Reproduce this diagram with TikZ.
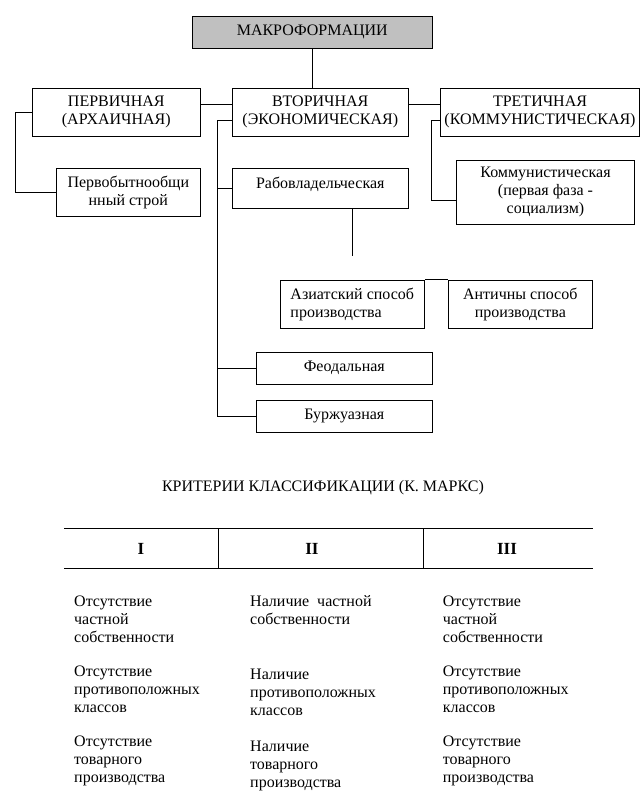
\documentclass[tikz,border=0pt]{standalone}
\usepackage{fontspec}
\setmainfont{Liberation Serif}
\definecolor{boxgray}{RGB}{192,192,192}
\begin{document}
\begin{tikzpicture}[x=1pt,y=-1pt,
  every node/.style={font=\fontsize{16}{18}\selectfont, inner sep=0pt},
  box/.style={draw, line width=1pt, align=center},
  conn/.style={draw, line width=1pt},
  txt/.style={align=left, anchor=west},
  numeral/.style={font=\fontsize{17}{18}\selectfont\bfseries}]
\useasboundingbox (0,0) rectangle (642,809);
% boxes
\node[box, fill=boxgray, minimum width=240pt, minimum height=32pt] (makro) at (312.3,32.2) {МАКРОФОРМАЦИИ};
\node[box, minimum width=168pt, minimum height=48pt] (perv) at (116.3,112.3) {ПЕРВИЧНАЯ\\(АРХАИЧНАЯ)};
\node[box, minimum width=176pt, minimum height=48pt] (vtor) at (320.3,112.3) {ВТОРИЧНАЯ\\(ЭКОНОМИЧЕСКАЯ)};
\node[box, minimum width=199pt, minimum height=48pt] (tret) at (540,112.3) {ТРЕТИЧНАЯ\\(КОММУНИСТИЧЕСКАЯ)};
\node[box, minimum width=144pt, minimum height=48pt] (pervob) at (128.3,192.3) {Первобытнообщи\\нный строй};
\node[box, minimum width=176pt, minimum height=40pt, text height=10pt, text depth=10pt] (rab) at (320.3,188.3) {Рабовладельческая};
\node[box, minimum width=178pt, minimum height=64pt] (komm) at (545.5,192.3) {Коммунистическая\\(первая фаза -\\социализм)};
\node[box, align=left, minimum width=144pt, minimum height=48pt] (azia) at (352.3,304.3) {Азиатский способ\\производства};
\node[box, minimum width=144pt, minimum height=48pt] (ant) at (520.3,304.3) {Античны способ\\производства};
\node[box, minimum width=176pt, minimum height=32pt] (feod) at (344.3,368.3) {Феодальная};
\node[box, minimum width=176pt, minimum height=32pt] (burzh) at (344.3,416.3) {Буржуазная};
% connectors
\draw[conn] (makro.south) -- (makro.south |- vtor.north);
\draw[conn] ([yshift=8pt]perv.east) -- ([yshift=8pt]vtor.west);
\draw[conn] ([yshift=8pt]vtor.east) -- ([yshift=8pt]tret.west);
\draw[conn] (perv.west) -- ++(-16,0) |- (pervob.west);
\coordinate (vb) at (217,120.3);
\draw[conn] ([yshift=-8pt]vtor.west) -- (vb) |- (burzh.west);
\draw[conn] (vb |- rab.west) -- (rab.west);
\draw[conn] (vb |- feod.west) -- (feod.west);
\draw[conn] ([yshift=-8pt]tret.west) -- ++(-9,0) |- ([yshift=-8pt]komm.west);
\coordinate (rabend) at (352.3,256);
\draw[conn] (rabend |- rab.south) -- (rabend);
\draw[conn] (azia.north east) -- (ant.north west);
% criteria
\node (crit) at (323,488) {КРИТЕРИИ КЛАССИФИКАЦИИ (К. МАРКС)};
\coordinate (tl) at (64,528.3);
\coordinate (tr) at (592.7,528.3);
\coordinate (bl) at (64,568.3);
\coordinate (br) at (592.7,568.3);
\coordinate (d1t) at (218.3,528.3);
\coordinate (d1b) at (218.3,568.3);
\coordinate (d2t) at (423.3,528.3);
\coordinate (d2b) at (423.3,568.3);
\draw[conn] (tl) -- (tr);
\draw[conn] (bl) -- (br);
\draw[conn] (d1t) -- (d1b);
\draw[conn] (d2t) -- (d2b);
\node[numeral] (n1) at (141,549) {I};
\node[numeral] (n2) at (312,549) {II};
\node[numeral] (n3) at (507,549) {III};
% columns
\node[txt] (c1a) at (74,619) {Отсутствие\\частной\\собственности};
\node[txt] (c1b) at (74,689) {Отсутствие\\противоположных\\классов};
\node[txt] (c1c) at (74,761) {Отсутствие\\товарного\\производства};
\node[txt] (c2a) at (250,610.5) {Наличие\ \ частной\\собственности};
\node[txt] (c2b) at (250,692) {Наличие\\противоположных\\классов};
\node[txt] (c2c) at (250,766) {Наличие\\товарного\\производства};
\node[txt] (c3a) at (442.7,619) {Отсутствие\\частной\\собственности};
\node[txt] (c3b) at (442.7,689) {Отсутствие\\противоположных\\классов};
\node[txt] (c3c) at (442.7,761) {Отсутствие\\товарного\\производства};
\end{tikzpicture}
\end{document}
